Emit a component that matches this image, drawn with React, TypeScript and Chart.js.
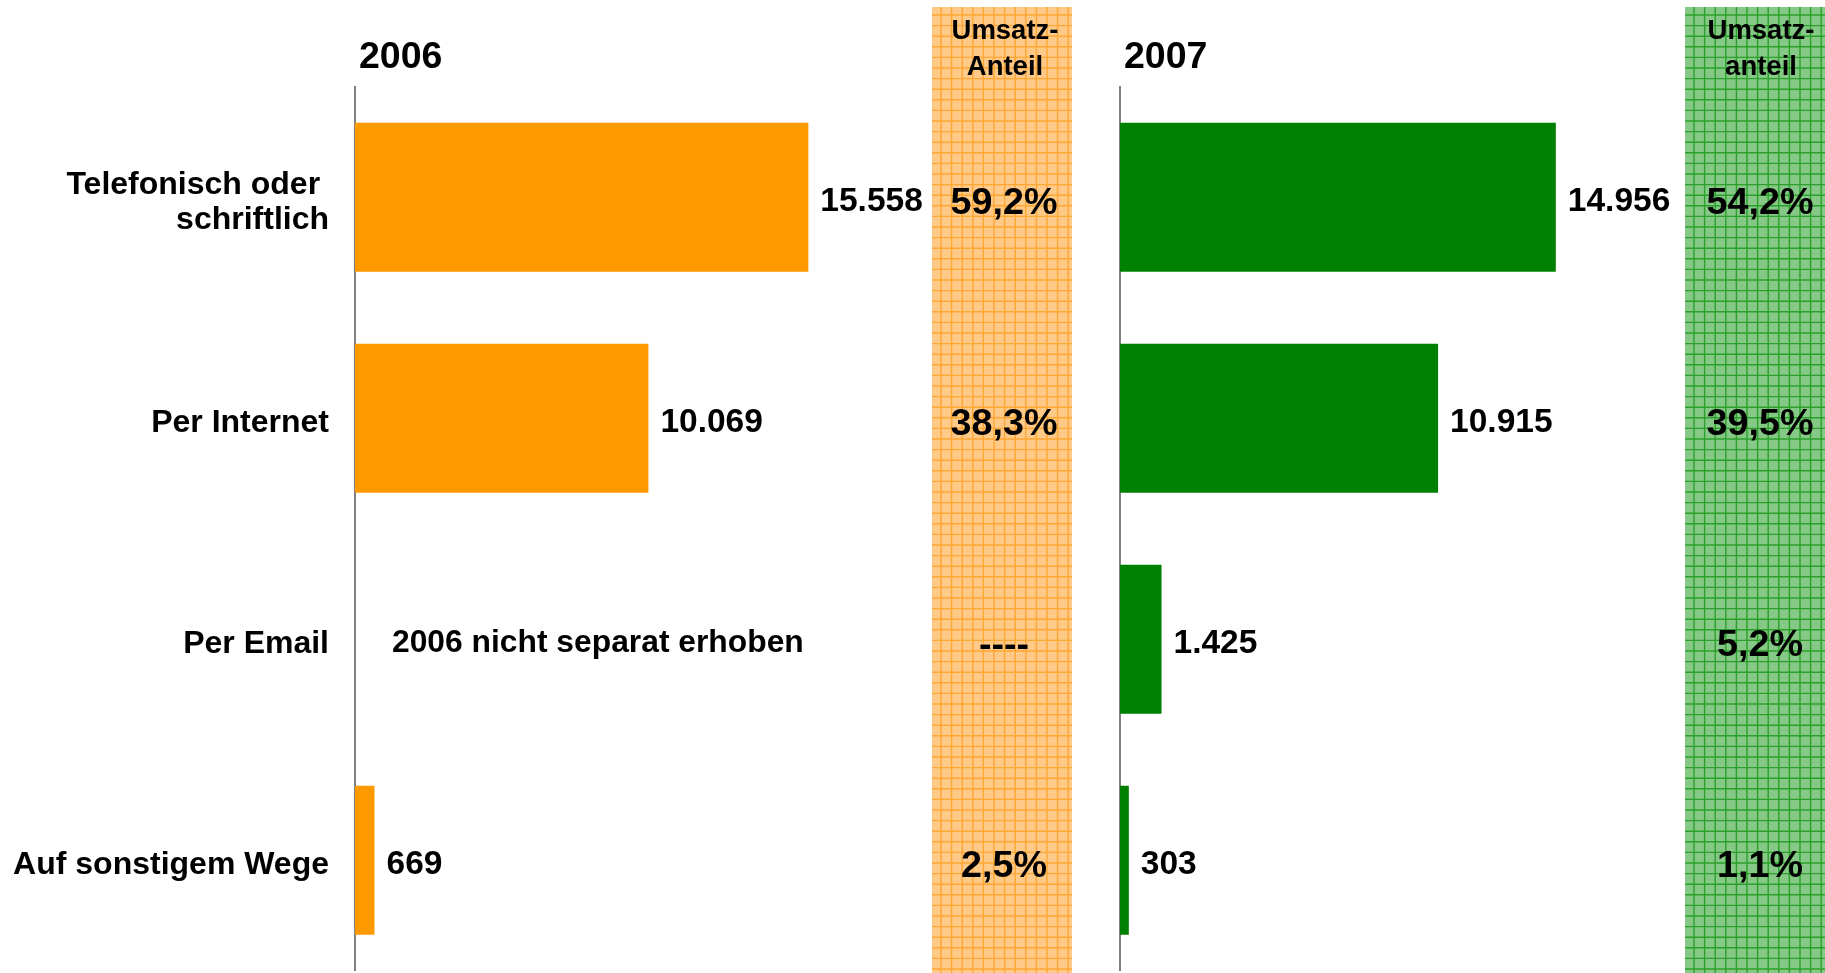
import React, { useEffect, useRef } from "react";
import { Chart, registerables } from "chart.js";

Chart.register(...registerables);

// ---------- data ----------
const categories: string[][] = [
  ["Telefonisch oder ", "schriftlich"],
  ["Per Internet"],
  ["Per Email"],
  ["Auf sonstigem Wege"],
];
const values2006: (number | null)[] = [15558, 10069, null, 669];
const values2007: (number | null)[] = [14956, 10915, 1425, 303];
const share2006 = ["59,2%", "38,3%", "----", "2,5%"];
const share2007 = ["54,2%", "39,5%", "5,2%", "1,1%"];
const missingNote2006 = "2006 nicht separat erhoben";
const titles = ["2006", "2007"];
const shareHeader2006 = ["Umsatz-", "Anteil"];
const shareHeader2007 = ["Umsatz-", "anteil"];
const X_MAX = 20000;

const FONT = '"Liberation Sans", Arial, Helvetica, sans-serif';

function fmt(v: number): string {
  return String(v).replace(/\B(?=(\d{3})+(?!\d))/g, ".");
}

function text(
  ctx: CanvasRenderingContext2D,
  s: string,
  x: number,
  y: number,
  size: number,
  align: CanvasTextAlign = "left",
  baseline: CanvasTextBaseline = "middle"
) {
  ctx.save();
  ctx.font = `bold ${size}px ${FONT}`;
  ctx.fillStyle = "#000000";
  ctx.textAlign = align;
  ctx.textBaseline = baseline;
  ctx.fillText(s, x, y);
  ctx.restore();
}

type PanelCfg = {
  key: string;
  left: number;
  width: number;
  padLeft: number;
  padRight: number;
  values: (number | null)[];
  shares: string[];
  header: string[];
  title: string;
  titleX: number;
  colL: number;
  colR: number;
  shareX: number;
  barColor: string;
  colFill: string;
  colLine: string;
  showCategories: boolean;
  note?: string;
};

const H = 973;
const CHART_W = 582.8;

const panels: PanelCfg[] = [
  {
    key: "p2006",
    left: 0,
    width: 1100,
    padLeft: 355,
    padRight: 1100 - 355 - CHART_W,
    values: values2006,
    shares: share2006,
    header: shareHeader2006,
    title: titles[0],
    titleX: 359,
    colL: 932,
    colR: 1072,
    shareX: 1004,
    barColor: "#FF9900",
    colFill: "#FFCA88",
    colLine: "rgba(255,158,30,0.8)",
    showCategories: true,
    note: missingNote2006,
  },
  {
    key: "p2007",
    left: 1100,
    width: 725,
    padLeft: 20,
    padRight: 725 - 20 - CHART_W,
    values: values2007,
    shares: share2007,
    header: shareHeader2007,
    title: titles[1],
    titleX: 24,
    colL: 585,
    colR: 725,
    shareX: 660,
    barColor: "#008000",
    colFill: "#86C886",
    colLine: "rgba(20,150,20,0.8)",
    showCategories: false,
  },
];

function Panel({ cfg }: { cfg: PanelCfg }) {
  const ref = useRef<HTMLCanvasElement | null>(null);

  useEffect(() => {
    if (!ref.current) return;

    const decor = {
      id: "decor_" + cfg.key,
      beforeDraw(chart: any) {
        const ctx: CanvasRenderingContext2D = chart.ctx;
        ctx.save();
        const top = 7;
        ctx.fillStyle = cfg.colFill;
        ctx.fillRect(cfg.colL, top, cfg.colR - cfg.colL, H - top);
        ctx.strokeStyle = cfg.colLine;
        ctx.lineWidth = 1.4;
        ctx.beginPath();
        ctx.rect(cfg.colL, top, cfg.colR - cfg.colL, H - top);
        ctx.clip();
        const step = 10.6;
        ctx.beginPath();
        for (let x = cfg.colL + 9; x < cfg.colR; x += step) {
          ctx.moveTo(x, top);
          ctx.lineTo(x, H);
        }
        for (let y = top + 8; y < H; y += step) {
          ctx.moveTo(cfg.colL, y);
          ctx.lineTo(cfg.colR, y);
        }
        ctx.stroke();
        ctx.restore();
      },
      afterDraw(chart: any) {
        const ctx: CanvasRenderingContext2D = chart.ctx;
        const xs = chart.scales.x;
        const ys = chart.scales.y;
        // title
        text(ctx, cfg.title, cfg.titleX, 68, 37.5, "left", "alphabetic");
        // share header
        text(ctx, cfg.header[0], cfg.shareX + 1, 31.5, 27.5, "center");
        text(ctx, cfg.header[1], cfg.shareX + 1, 67, 27.5, "center");
        categories.forEach((cat, i) => {
          const y = ys.getPixelForValue(i);
          const v = cfg.values[i];
          if (v !== null && v !== undefined) {
            const xe = xs.getPixelForValue(v);
            text(ctx, fmt(v), xe + 12, y + 4.5, 33.5, "left");
          } else if (cfg.note) {
            text(ctx, cfg.note, xs.getPixelForValue(0) + 37, y + 4.5, 31.8, "left");
          }
          text(ctx, cfg.shares[i], cfg.shareX, y + 6, 37.7, "center");
          if (cfg.showCategories) {
            const lines = cat;
            const lh = 35;
            const start = y + 5 - ((lines.length - 1) * lh) / 2;
            lines.forEach((ln, k) => {
              text(ctx, ln, 329, start + k * lh, 32, "right");
            });
          }
        });
      },
    };

    const chart = new Chart(ref.current, {
      type: "bar",
      data: {
        labels: categories.map((c) => c.join("").trim()),
        datasets: [
          {
            data: cfg.values as any,
            backgroundColor: cfg.barColor,
            borderWidth: 0,
            categoryPercentage: 1,
            barPercentage: 0.674,
          },
        ],
      },
      options: {
        indexAxis: "y",
        responsive: false,
        animation: false,
        devicePixelRatio: 1,
        layout: {
          padding: { left: cfg.padLeft, right: cfg.padRight, top: 86.7, bottom: 2.3 },
        },
        plugins: {
          legend: { display: false },
          tooltip: { enabled: false },
          title: { display: false },
        },
        scales: {
          x: {
            display: false,
            min: 0,
            max: X_MAX,
          },
          y: {
            display: true,
            ticks: { display: false },
            grid: { display: false, drawTicks: false },
            border: { display: true, color: "#808080", width: 2 },
            title: { display: false },
          },
        },
      },
      plugins: [decor],
    });
    return () => chart.destroy();
  }, [cfg]);

  return (
    <canvas
      ref={ref}
      width={cfg.width}
      height={H}
      style={{ position: "absolute", left: cfg.left, top: 0, width: cfg.width, height: H }}
    />
  );
}

export default function App() {
  useEffect(() => {
    document.body.style.margin = "0";
    document.body.style.overflow = "hidden";
  }, []);
  return (
    <div
      style={{
        position: "absolute",
        left: 0,
        top: 0,
        width: 1825,
        height: H,
        background: "#ffffff",
        overflow: "hidden",
      }}
    >
      {panels.map((p) => (
        <Panel key={p.key} cfg={p} />
      ))}
    </div>
  );
}
